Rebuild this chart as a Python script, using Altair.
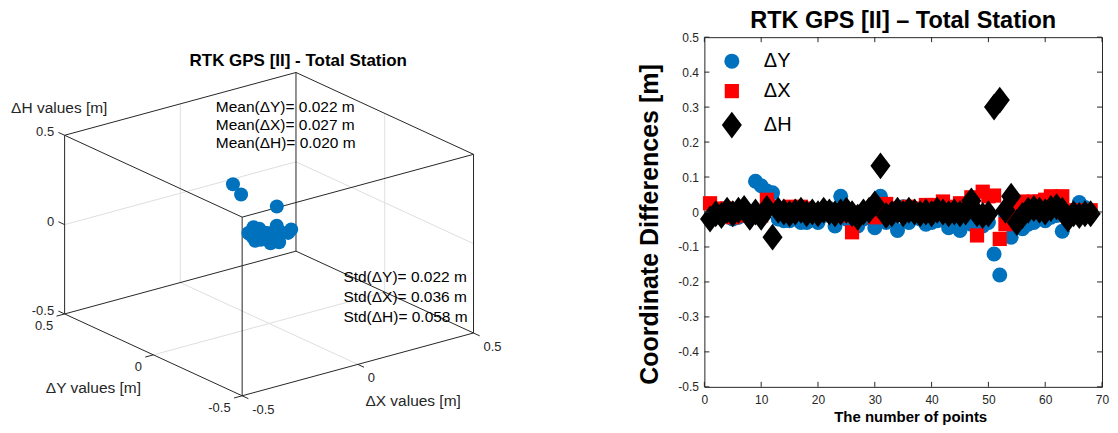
import math
import altair as alt
import pandas as pd

FONT = "Liberation Sans"
AX_COLOR = "#262626"

# ---------------- data ----------------
point_no = list(range(1, 69))
dY = [-0.02, -0.01, -0.015, -0.01, -0.02, -0.015, -0.01, -0.01, 0.088, 0.075,
      0.06, 0.055, -0.02, -0.025, -0.025, -0.02, -0.03, -0.03, -0.02, -0.03,
      -0.01, 0.01, -0.04, 0.045, -0.02, -0.025, -0.04, -0.02, -0.015, -0.045,
      0.045, -0.03, -0.025, -0.053, 0.015, -0.03, -0.015, -0.02, -0.035, -0.03,
      -0.025, -0.015, -0.045, -0.04, -0.053, -0.02, -0.035, -0.045, -0.04, -0.03,
      -0.12, -0.18, -0.008, -0.072, -0.045, -0.048, -0.035, -0.03, -0.02, -0.025,
      -0.015, -0.01, -0.055, -0.01, -0.005, 0.027, 0.013, 0.0]
dX = [0.025, 0.01, 0.005, 0.01, -0.015, -0.01, 0.0, -0.01, -0.01, -0.01,
      0.035, 0.015, 0.01, 0.01, 0.015, 0.005, 0.015, 0.01, 0.005, 0.005,
      0.0, -0.005, 0.005, 0.0, -0.01, -0.058, -0.005, 0.0, 0.005, -0.015,
      0.015, 0.023, 0.005, 0.01, 0.01, 0.015, 0.01, 0.005, 0.02, 0.02,
      0.015, 0.03, 0.01, 0.015, 0.025, 0.02, 0.042, -0.067, 0.058, 0.045,
      0.047, -0.077, -0.035, -0.01, 0.02, 0.03, 0.025, 0.03, 0.03, 0.035,
      0.045, 0.042, 0.045, 0.005, 0.0, 0.005, -0.005, 0.005]
dH = [-0.02, -0.005, -0.01, 0.005, -0.005, 0.005, 0.01, -0.015, 0.0, -0.015,
      0.01, -0.072, 0.005, 0.0, -0.005, 0.0, 0.005, -0.005, 0.0, -0.005,
      0.005, 0.0, -0.005, 0.0, 0.005, -0.005, -0.015, 0.0, 0.005, 0.023,
      0.132, -0.01, -0.005, 0.005, -0.005, 0.005, 0.0, -0.005, 0.0, -0.005,
      0.005, 0.0, -0.005, 0.0, -0.005, 0.0, 0.032, -0.005, -0.01, -0.005,
      0.30, 0.32, 0.005, 0.045, -0.03, -0.01, 0.005, 0.01, 0.005, 0.0,
      0.01, 0.015, 0.005, -0.02, -0.005, -0.01, -0.005, -0.005]

series_names = ["ΔY", "ΔX", "ΔH"]
series_colors = ["#0072BD", "#FF0000", "#000000"]
series_shapes = ["circle", "square", "M0,-2L1.5,0L0,2L-1.5,0Z"]
series_sizes = [225, 180, 256]

x_ticks = [0, 10, 20, 30, 40, 50, 60, 70]
y_ticks = [-0.5, -0.4, -0.3, -0.2, -0.1, 0, 0.1, 0.2, 0.3, 0.4, 0.5]

cube_lim = [-0.5, 0.5]
cube_ticks = [-0.5, 0, 0.5]
cube_tick_labels = ["-0.5", "0", "0.5"]
mean_lines = ["Mean(ΔY)= 0.022 m", "Mean(ΔX)= 0.027 m", "Mean(ΔH)= 0.020 m"]
std_lines = ["Std(ΔY)= 0.022 m", "Std(ΔX)= 0.036 m", "Std(ΔH)= 0.058 m"]

title_3d = "RTK GPS [II] - Total Station"
title_2d = "RTK GPS [II] – Total Station"

# ---------------- 3D projection (view az=-37.5, el=30) ----------------
AZ = math.radians(37.5)
EL = math.radians(30)


def proj(a, b, h):
    u = a * math.cos(AZ) - b * math.sin(AZ)
    v = (a * math.sin(AZ) + b * math.cos(AZ)) * math.sin(EL) + h * math.cos(EL)
    return u, v


# layout of the left panel
PX0, PY0 = 8, 37          # page position of the left plot area
WL, HL = 560, 375
CX, CY = 268.3, 234.15    # page position of the cube centre
SX, SY = 291.9, 206.5     # pixels per projected unit
U0, U1 = (PX0 - CX) / SX, (PX0 + WL - CX) / SX
V0, V1 = (CY - (PY0 + HL)) / SY, (CY - PY0) / SY

xs3 = alt.Scale(domain=[U0, U1], nice=False, zero=False)
ys3 = alt.Scale(domain=[V0, V1], nice=False, zero=False)

lo, hi = cube_lim


def seg_df(segs):
    rows = []
    for p1, p2 in segs:
        u1, v1 = proj(*p1)
        u2, v2 = proj(*p2)
        rows.append(dict(u=u1, v=v1, u2=u2, v2=v2))
    return pd.DataFrame(rows)


corners = [(a, b, h) for a in cube_lim for b in cube_lim for h in cube_lim]
edges = []
for i, c1 in enumerate(corners):
    for c2 in corners[i + 1:]:
        if sum(p != q for p, q in zip(c1, c2)) == 1:
            edges.append((c1, c2))

grid = []
for t in cube_ticks[1:-1]:
    grid += [((t, lo, lo), (t, hi, lo)), ((lo, t, lo), (hi, t, lo)),
             ((t, hi, lo), (t, hi, hi)), ((lo, hi, t), (hi, hi, t)),
             ((hi, t, lo), (hi, t, hi)), ((hi, lo, t), (hi, hi, t))]

TL = 0.035
ticks3 = []
for t in cube_ticks:
    ticks3 += [((lo, hi, t), (lo, hi + TL, t)),
               ((lo, t, lo), (lo - TL, t, lo)),
               ((t, lo, lo), (t, lo - TL, lo))]


def seg_layer(segs, color, width):
    return alt.Chart(seg_df(segs)).mark_rule(color=color, strokeWidth=width).encode(
        x=alt.X("u:Q", scale=xs3, axis=None), y=alt.Y("v:Q", scale=ys3, axis=None),
        x2="u2:Q", y2="v2:Q")


def label_df(pts):
    rows = []
    for p, lab in zip(pts, cube_tick_labels):
        u, v = proj(*p)
        rows.append(dict(u=u, v=v, lab=lab))
    return pd.DataFrame(rows)


def label_layer(pts, align, dx, dy):
    return alt.Chart(label_df(pts)).mark_text(
        align=align, baseline="middle", dx=dx, dy=dy, font=FONT, fontSize=13, color=AX_COLOR
    ).encode(x=alt.X("u:Q", scale=xs3, axis=None), y=alt.Y("v:Q", scale=ys3, axis=None), text="lab:N")


pts3 = [proj(a, b, h) for a, b, h in zip(dY, dX, dH)]
scatter_df = pd.DataFrame({"u": [p[0] for p in pts3], "v": [p[1] for p in pts3]})
scatter3 = alt.Chart(scatter_df).mark_point(filled=True, opacity=1, size=196, color="#0072BD").encode(
    x=alt.X("u:Q", scale=xs3, axis=None), y=alt.Y("v:Q", scale=ys3, axis=None))


def fixed_text(txt, px, py, align="center", size=15.5, weight="normal", color=AX_COLOR):
    return alt.Chart(pd.DataFrame({"t": [txt]})).mark_text(
        align=align, baseline="middle", font=FONT, fontSize=size, fontWeight=weight, color=color
    ).encode(x=alt.value(px - PX0), y=alt.value(py - PY0), text="t:N")


left_layers = [
    seg_layer(grid, "#dedede", 1),
    seg_layer(edges, AX_COLOR, 1),
    seg_layer(ticks3, AX_COLOR, 1),
    scatter3,
    label_layer([(lo, hi, t) for t in cube_ticks], "right", -10.5, -3),
    label_layer([(lo, t, lo) for t in cube_ticks], "right", -11.5, 12.5),
    label_layer([(t, lo, lo) for t in cube_ticks], "left", 10, 14),
    fixed_text(title_3d, 297.5, 61, size=17, weight="bold", color="black"),
    fixed_text("ΔH values [m]", 58.3, 108.3),
    fixed_text("ΔY values [m]", 92.5, 388.3),
    fixed_text("ΔX values [m]", 412.5, 400.7),
]
for i, (m, s) in enumerate(zip(mean_lines, std_lines)):
    left_layers.append(fixed_text(m, 215, 106.7 + 18.3 * i, align="left", color="black"))
    left_layers.append(fixed_text(s, 342.7, 276.7 + 20.3 * i, align="left", color="black"))

left = alt.layer(*left_layers).properties(
    width=WL, height=HL, view=alt.ViewBackground(stroke="transparent"))

# ---------------- right panel ----------------
RX0 = 704                 # page position of the right plot's left edge
W2, H2 = 398, 350
long = pd.DataFrame({
    "point": point_no * 3,
    "value": dY + dX + dH,
    "series": [s for s in series_names for _ in point_no],
})

xs2 = alt.Scale(domain=[0, 70], nice=False, zero=False)
ys2 = alt.Scale(domain=[-0.5, 0.5], nice=False, zero=False)

x_axis = alt.Axis(
    values=x_ticks, title="The number of points", titleFont=FONT, titleFontSize=15,
    titleFontWeight="bold", titleColor="black", titleX=206, titleY=30,
    titleBaseline="middle", titleAlign="center", labelFont=FONT, labelFontSize=12,
    labelColor=AX_COLOR, tickSize=0, labelPadding=8, domain=False, grid=False,
    labelFlush=False, labelOverlap=False)
y_axis = alt.Axis(
    values=y_ticks, labelExpr="'' + datum.value", title="Coordinate Differences [m]",
    titleFont=FONT, titleFontSize=25, titleFontWeight="bold", titleColor="black",
    titleX=-55, titleY=187, titleBaseline="middle", titleAlign="center", titleAngle=270,
    labelFont=FONT, labelFontSize=12, labelColor=AX_COLOR, tickSize=0, labelPadding=6,
    domain=False, grid=False, labelFlush=False, labelOverlap=False)

leg = alt.Legend(title=None, orient="none", legendX=17.5, legendY=14, padding=0,
                 labelFont=FONT, labelFontSize=20, labelColor="black", symbolSize=450,
                 rowPadding=10, labelOffset=22, symbolStrokeWidth=0, symbolOpacity=1)

pts2 = alt.Chart(long).mark_point(filled=True, opacity=1).encode(
    x=alt.X("point:Q", scale=xs2, axis=x_axis),
    y=alt.Y("value:Q", scale=ys2, axis=y_axis),
    color=alt.Color("series:N", scale=alt.Scale(domain=series_names, range=series_colors), legend=leg),
    shape=alt.Shape("series:N", scale=alt.Scale(domain=series_names, range=series_shapes), legend=leg),
    size=alt.Size("series:N", scale=alt.Scale(domain=series_names, range=series_sizes), legend=None),
)

xt = pd.DataFrame({"point": x_ticks})
yt = pd.DataFrame({"value": y_ticks})
tick_rules = [
    alt.Chart(xt).mark_rule(color=AX_COLOR).encode(
        x=alt.X("point:Q", scale=xs2, axis=x_axis), y=alt.value(H2), y2=alt.value(H2 - 5)),
    alt.Chart(xt).mark_rule(color=AX_COLOR).encode(
        x=alt.X("point:Q", scale=xs2, axis=x_axis), y=alt.value(0), y2=alt.value(5)),
    alt.Chart(yt).mark_rule(color=AX_COLOR).encode(
        y=alt.Y("value:Q", scale=ys2, axis=y_axis), x=alt.value(0), x2=alt.value(5)),
    alt.Chart(yt).mark_rule(color=AX_COLOR).encode(
        y=alt.Y("value:Q", scale=ys2, axis=y_axis), x=alt.value(W2), x2=alt.value(W2 - 5)),
]

right = alt.layer(pts2, *tick_rules).properties(
    width=W2, height=H2,
    title=alt.TitleParams(title_2d, font=FONT, fontSize=23.5, fontWeight="bold", color="black",
                          anchor="middle", frame="group", offset=-1.5),
    view=alt.ViewBackground(stroke=AX_COLOR, strokeWidth=1),
)

chart = alt.hconcat(left, right, spacing=RX0 - PX0 - WL, bounds="flush").resolve_legend(
    color="independent", shape="independent", size="independent"
).properties(padding=0, background="white")

chart.save("out.html", embed_options={"renderer": "svg", "actions": False})
